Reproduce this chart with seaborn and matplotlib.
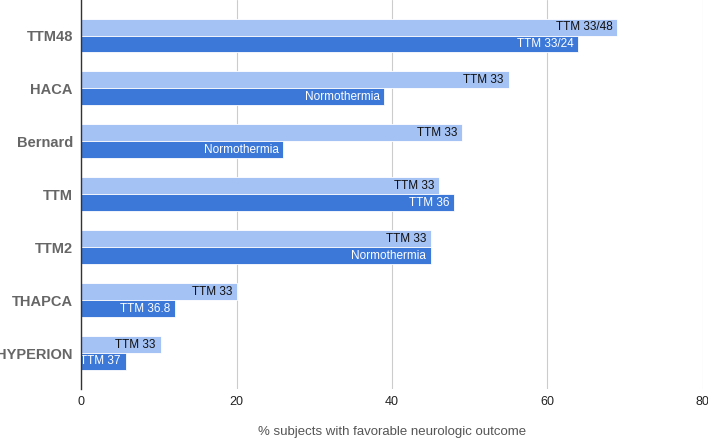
import pandas as pd
import seaborn as sns
import matplotlib.pyplot as plt

trials = ["TTM48", "HACA", "Bernard", "TTM", "TTM2", "THAPCA", "HYPERION"]
# first series: lower target / longer cooling arm, second: comparator arm
arm1_values = [69, 55, 49, 46, 45, 20, 10.2]
arm2_values = [64, 39, 26, 48, 45, 12, 5.7]
arm1_labels = ["TTM 33/48", "TTM 33", "TTM 33", "TTM 33", "TTM 33", "TTM 33", "TTM 33"]
arm2_labels = ["TTM 33/24", "Normothermia", "Normothermia", "TTM 36",
               "Normothermia", "TTM 36.8", "TTM 37"]
x_ticks = [0, 20, 40, 60, 80]

df = pd.DataFrame({
    "trial": trials * 2,
    "arm": ["arm1"] * len(trials) + ["arm2"] * len(trials),
    "value": arm1_values + arm2_values,
})

sns.set_style("white")
plt.rcParams["font.family"] = ["Liberation Sans", "DejaVu Sans"]

fig = plt.figure(figsize=(7.08, 4.42), dpi=100)
ax = fig.add_axes([81.3 / 708, 1 - 389 / 442, (702.7 - 81.3) / 708, 389 / 442])

sns.barplot(data=df, y="trial", x="value", hue="arm", order=trials,
            palette=["#a4c2f4", "#3c78d8"], saturation=1, width=0.64, gap=0.0,
            edgecolor="white", linewidth=0.6, legend=False, ax=ax)

label_sets = [arm1_labels, arm2_labels]
label_colors = ["#111111", "white"]
for cont, labels, col in zip(ax.containers, label_sets, label_colors):
    for p, lab in zip(cont.patches, labels):
        ax.text(p.get_width() - 0.6, p.get_y() + p.get_height() / 2, lab,
                ha="right", va="center", fontsize=8.5, color=col,
                family=["Liberation Sans Narrow", "Liberation Sans", "DejaVu Sans"])

ax.set_xlim(0, 80)
ax.set_ylim(6.68, -0.671)
ax.set_xticks(x_ticks)
ax.set_xticklabels([str(t) for t in x_ticks], fontsize=9, color="#222222")
ax.tick_params(axis="x", length=0, pad=5)
ax.tick_params(axis="y", length=0, pad=6)
for lbl in ax.get_yticklabels():
    lbl.set_fontweight("bold")
    lbl.set_fontsize(10.5)
    lbl.set_color("#666666")

ax.grid(axis="x", color="#cccccc", linewidth=0.8)
ax.set_axisbelow(True)
for s in ["top", "right", "bottom"]:
    ax.spines[s].set_visible(False)
ax.spines["left"].set_color("#333333")
ax.spines["left"].set_linewidth(1.0)
ax.spines["left"].set_zorder(5)

ax.set_ylabel("")
ax.set_xlabel("% subjects with favorable neurologic outcome", fontsize=9.5,
              color="#555555", labelpad=13)

fig.savefig("out.png", dpi=100)
